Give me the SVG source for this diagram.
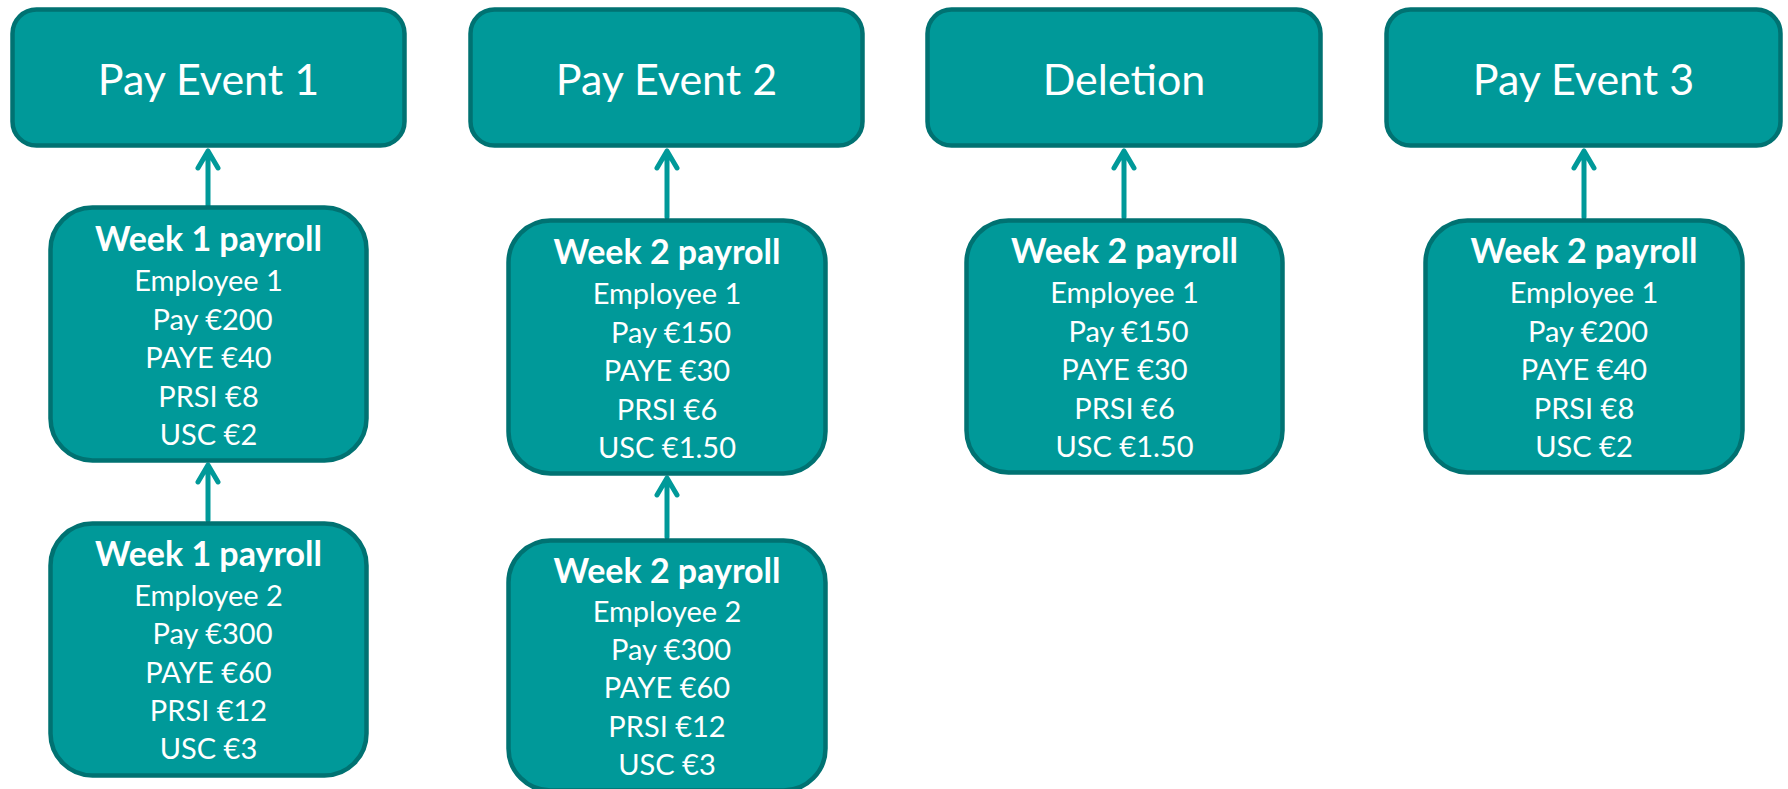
<svg xmlns="http://www.w3.org/2000/svg" width="1788" height="789" viewBox="0 0 1788 789">
<style>
.box{fill:#009999;stroke:#007272;stroke-width:4.5}
.t{font-family:Lato,"Liberation Sans",sans-serif;fill:#ffffff;text-anchor:middle}
.head{font-size:43px}
.title{font-size:34px;font-weight:bold}
.body{font-size:29px}
.conn{fill:none;stroke:#009999;stroke-width:5;stroke-linecap:round;stroke-linejoin:round}
</style>
<rect width="1788" height="789" fill="#ffffff"/>
<g id="connectors">
<path class="conn" d="M208 206V151M198 168L208 151L218 168"/>
<path class="conn" d="M208 520V465M198 482L208 465L218 482"/>
<path class="conn" d="M667 217V151M657 168L667 151L677 168"/>
<path class="conn" d="M667 537V478M657 495L667 478L677 495"/>
<path class="conn" d="M1124 217V151M1114 168L1124 151L1134 168"/>
<path class="conn" d="M1584 217V151M1574 168L1584 151L1594 168"/>
</g>
<g id="pay-event-1">
<rect class="box" x="12.5" y="9.5" width="392" height="136" rx="24"/>
<text class="t head" x="208.5" y="95">Pay Event 1</text>
</g>
<g id="pay-event-2">
<rect class="box" x="470.5" y="9.5" width="392" height="136" rx="24"/>
<text class="t head" x="666.5" y="95">Pay Event 2</text>
</g>
<g id="deletion">
<rect class="box" x="927.5" y="9.5" width="393" height="136" rx="24"/>
<text class="t head" x="1124" y="95">Deletion</text>
</g>
<g id="pay-event-3">
<rect class="box" x="1386.5" y="9.5" width="394" height="136" rx="24"/>
<text class="t head" x="1583.5" y="95">Pay Event 3</text>
</g>
<g id="w1-emp1">
<rect class="box" x="50.5" y="207.5" width="316" height="253" rx="42"/>
<text class="t title" x="208.5" y="251">Week 1 payroll</text>
<text class="t body" x="208.5" y="291">Employee 1</text>
<text class="t body" x="212.5" y="329.5">Pay €200</text>
<text class="t body" x="208.5" y="368">PAYE €40</text>
<text class="t body" x="208.5" y="406.5">PRSI €8</text>
<text class="t body" x="208.5" y="445">USC €2</text>
</g>
<g id="w1-emp2">
<rect class="box" x="50.5" y="523.5" width="316" height="252" rx="42"/>
<text class="t title" x="208.5" y="566">Week 1 payroll</text>
<text class="t body" x="208.5" y="606">Employee 2</text>
<text class="t body" x="212.5" y="644">Pay €300</text>
<text class="t body" x="208.5" y="682.5">PAYE €60</text>
<text class="t body" x="208.5" y="721">PRSI €12</text>
<text class="t body" x="208.5" y="759">USC €3</text>
</g>
<g id="w2-emp1">
<rect class="box" x="508.5" y="220.5" width="317" height="253" rx="42"/>
<text class="t title" x="667" y="264">Week 2 payroll</text>
<text class="t body" x="667" y="304">Employee 1</text>
<text class="t body" x="671" y="342.5">Pay €150</text>
<text class="t body" x="667" y="381">PAYE €30</text>
<text class="t body" x="667" y="419.5">PRSI €6</text>
<text class="t body" x="667" y="458">USC €1.50</text>
</g>
<g id="w2-emp2">
<rect class="box" x="508.5" y="540.5" width="317" height="250" rx="42"/>
<text class="t title" x="667" y="583">Week 2 payroll</text>
<text class="t body" x="667" y="622">Employee 2</text>
<text class="t body" x="671" y="660">Pay €300</text>
<text class="t body" x="667" y="698">PAYE €60</text>
<text class="t body" x="667" y="736.5">PRSI €12</text>
<text class="t body" x="667" y="775">USC €3</text>
</g>
<g id="deletion-w2-emp1">
<rect class="box" x="966.5" y="220.5" width="316" height="252" rx="42"/>
<text class="t title" x="1124.5" y="263">Week 2 payroll</text>
<text class="t body" x="1124.5" y="303">Employee 1</text>
<text class="t body" x="1128.5" y="341.5">Pay €150</text>
<text class="t body" x="1124.5" y="380">PAYE €30</text>
<text class="t body" x="1124.5" y="418.5">PRSI €6</text>
<text class="t body" x="1124.5" y="457">USC €1.50</text>
</g>
<g id="pe3-w2-emp1">
<rect class="box" x="1425.5" y="220.5" width="317" height="252" rx="42"/>
<text class="t title" x="1584" y="263">Week 2 payroll</text>
<text class="t body" x="1584" y="303">Employee 1</text>
<text class="t body" x="1588" y="341.5">Pay €200</text>
<text class="t body" x="1584" y="380">PAYE €40</text>
<text class="t body" x="1584" y="418.5">PRSI €8</text>
<text class="t body" x="1584" y="457">USC €2</text>
</g>
</svg>
